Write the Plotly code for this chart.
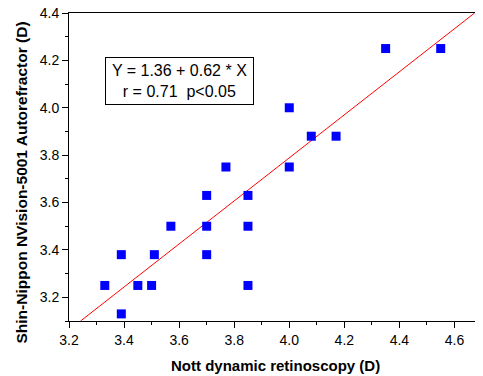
import plotly.graph_objects as go

# Data
nott_x = [3.33, 3.39, 3.39, 3.45, 3.50, 3.51, 3.57, 3.70, 3.70, 3.70,
          3.77, 3.85, 3.85, 3.85, 4.00, 4.00, 4.08, 4.17, 4.35, 4.55]
shin_y = [3.25, 3.38, 3.13, 3.25, 3.25, 3.38, 3.50, 3.63, 3.50, 3.38,
          3.75, 3.63, 3.50, 3.25, 4.00, 3.75, 3.88, 3.88, 4.25, 4.25]

# Regression line as drawn (endpoints)
fit_x = [3.242, 4.673]
fit_y = [3.10, 4.40]

x_ticks = [3.2, 3.4, 3.6, 3.8, 4.0, 4.2, 4.4, 4.6]
y_ticks = [3.2, 3.4, 3.6, 3.8, 4.0, 4.2, 4.4]

eq_lines = ["Y = 1.36 + 0.62 * X", "r = 0.71  p<0.05"]
x_title = "Nott dynamic retinoscopy (D)"
y_title = "Shin-Nippon NVision-5001 Autorefractor (D)"

FONT = "Arial, Liberation Sans, sans-serif"

fig = go.Figure()
fig.add_trace(go.Scatter(x=fit_x, y=fit_y, mode="lines",
                         line=dict(color="#ff0000", width=1), showlegend=False))
fig.add_trace(go.Scatter(x=nott_x, y=shin_y, mode="markers",
                         marker=dict(symbol="square", size=9, color="#0000ff",
                                     line=dict(width=0)),
                         showlegend=False))

axis_common = dict(showgrid=False, zeroline=False, showline=True, linecolor="black",
                   linewidth=1, mirror=True, ticks="outside", ticklen=6,
                   tickwidth=1, tickcolor="black", automargin=False,
                   ticklabeloverflow="allow",
                   tickfont=dict(family=FONT, size=14, color="black"))

fig.update_xaxes(range=[3.2, 4.7], tickmode="array", tickvals=x_ticks,
                 ticktext=[f"{v:.1f}" for v in x_ticks],
                 minor=dict(dtick=0.1, tick0=3.2, ticklen=3, ticks="outside",
                            tickcolor="black"),
                 **axis_common)
fig.update_yaxes(range=[3.1, 4.4], tickmode="array", tickvals=y_ticks,
                 ticktext=[f"{v:.1f}" for v in y_ticks],
                 minor=dict(dtick=0.1, tick0=3.1, ticklen=3, ticks="outside",
                            tickcolor="black"),
                 **axis_common)

fig.add_annotation(x=3.603, y=4.111, xref="x", yref="y",
                   text="<br>".join(eq_lines), showarrow=False, align="center",
                   font=dict(family=FONT, size=16, color="black"),
                   bordercolor="black", borderwidth=1, borderpad=1,
                   width=145, height=44, bgcolor="white")

fig.add_annotation(x=0.5, y=-0.146, xref="paper", yref="paper",
                   text="<b>" + x_title + "</b>", showarrow=False,
                   xanchor="center", yanchor="middle",
                   font=dict(family=FONT, size=15, color="black"))
fig.add_annotation(x=-0.116, y=0.45, xref="paper", yref="paper",
                   text="<b>" + y_title + "</b>", showarrow=False, textangle=-90,
                   xanchor="center", yanchor="middle",
                   font=dict(family=FONT, size=15.5, color="black"))

# The page body adds an 8px offset, so the figure is sized to compensate
fig.update_layout(width=475, height=368,
                  margin=dict(l=61, r=1, t=5, b=55),
                  plot_bgcolor="white", paper_bgcolor="white")

fig.write_html("out.html")
